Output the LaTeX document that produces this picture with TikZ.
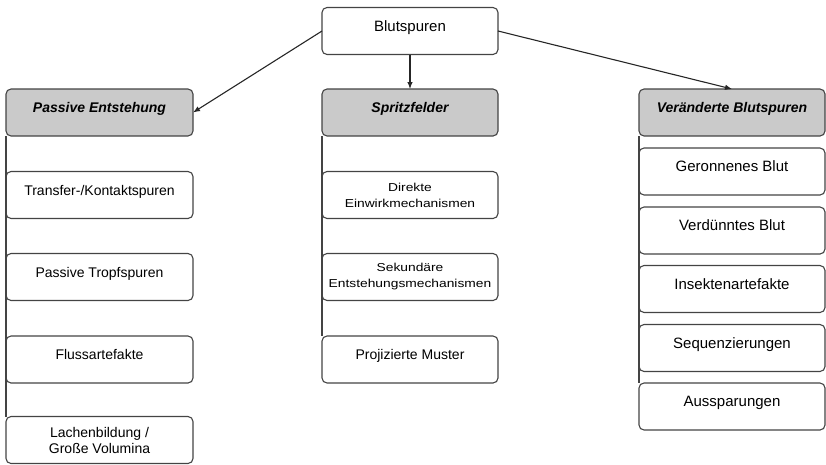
\documentclass[tikz,border=0pt]{standalone}
\usepackage{fontspec}
\setmainfont{Liberation Sans}
\newfontfamily\widesans[FakeStretch=1.2]{Liberation Sans}
\usetikzlibrary{arrows.meta}
\definecolor{rim}{HTML}{444444}
\definecolor{headgray}{HTML}{CACACA}
\tikzset{
  box/.style={draw=rim, line width=1.1pt, rounded corners=5pt, fill=white,
    minimum height=47pt, inner sep=2pt, outer sep=0pt, align=center},
  lbox/.style={box, minimum width=187pt},
  mbox/.style={box, minimum width=176pt},
  rbox/.style={box, minimum width=186pt},
  one/.style={text height=10pt, text depth=10pt},
  head/.style={fill=headgray, one, font=\fontsize{14}{16}\selectfont\bfseries\itshape},
  big/.style={font=\fontsize{14}{16}\selectfont},
  bigger/.style={font=\fontsize{15}{17}\selectfont},
  two/.style={font=\widesans\fontsize{11.5}{16}\selectfont},
  side/.style={draw=rim, line width=1.1pt},
  link/.style={draw=black!85, line width=1.1pt, -{Latex[length=7pt,width=5.5pt]}}
}
\begin{document}
\begin{tikzpicture}[x=1pt,y=-1pt]
\useasboundingbox (0,0) rectangle (826,464);

\node[mbox, one, bigger] (top) at (410,31) {Blutspuren};

\node[lbox, head] (passiv) at (99.5,112.5) {Passive Entstehung};
\node[mbox, head] (spritz) at (410,112.5) {Spritzfelder};
\node[rbox, head] (veraend) at (732,112.5) {Veränderte Blutspuren};

\node[lbox, one, big] (transfer) at (99.5,195) {Transfer-/Kontaktspuren};
\node[lbox, one, big] (tropf) at (99.5,277) {Passive Tropfspuren};
\node[lbox, one, big] (fluss) at (99.5,359.5) {Flussartefakte};
\node[lbox, big] (lachen) at (99.5,440) {Lachenbildung /\\Große Volumina};

\node[mbox, two] (direkt) at (410,195) {Direkte\\Einwirkmechanismen};
\node[mbox, two] (sekund) at (410,277) {Sekundäre\\Entstehungsmechanismen};
\node[mbox, one, big] (projiz) at (410,359.5) {Projizierte Muster};

\node[rbox, one, bigger] (geronn) at (732,171.5) {Geronnenes Blut};
\node[rbox, one, bigger] (verduen) at (732,230.5) {Verdünntes Blut};
\node[rbox, one, bigger] (insekt) at (732,289) {Insektenartefakte};
\node[rbox, one, bigger] (sequenz) at (732,348) {Sequenzierungen};
\node[rbox, one, bigger] (ausspar) at (732,406.5) {Aussparungen};

\draw[side] (passiv.south west) -- (lachen.north west);
\draw[side] (spritz.south west) -- (projiz.north west);
\draw[side] (veraend.south west) -- (ausspar.north west);

\draw[link] (top.west) -- (passiv.east);
\draw[link] (top.south) -- (spritz.north);
\draw[link] (top.east) -- (veraend.north);
\end{tikzpicture}
\end{document}
